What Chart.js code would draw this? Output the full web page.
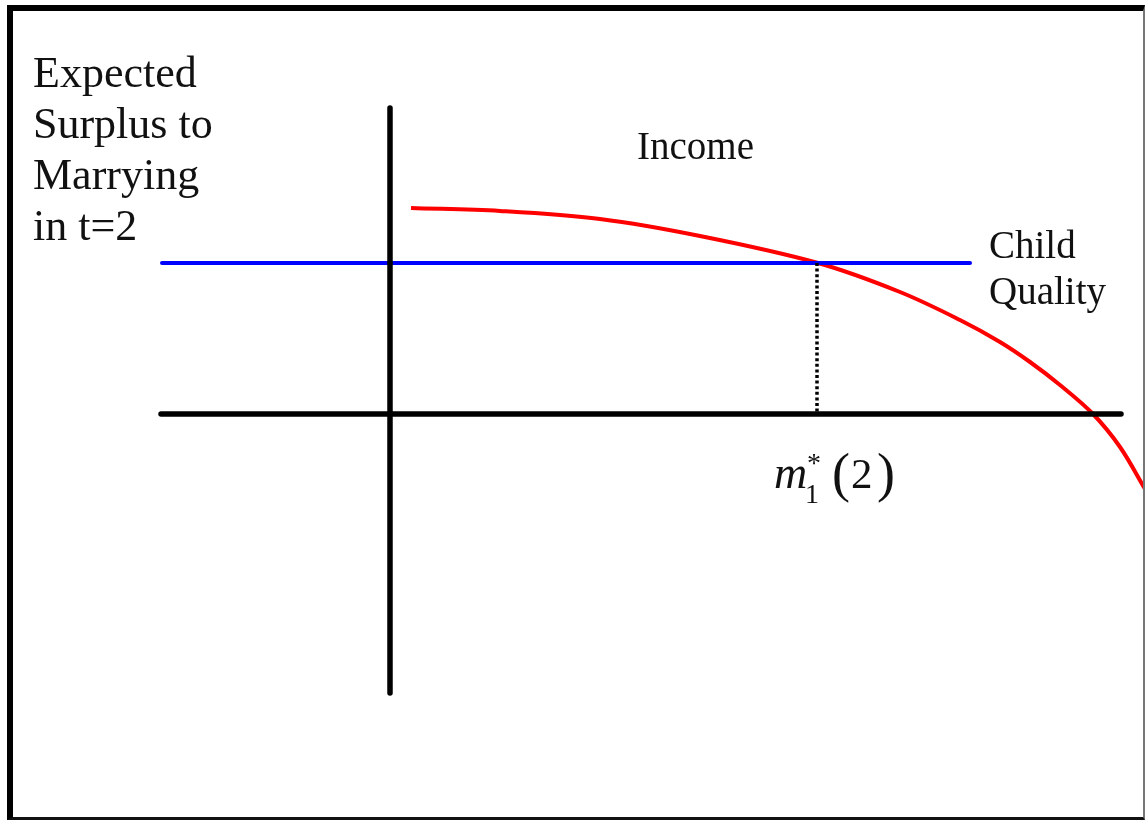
<!DOCTYPE html>
<html>
<head>
<meta charset="utf-8">
<script src="https://cdn.jsdelivr.net/npm/chart.js@4.4.1/dist/chart.umd.min.js"></script>
<style>
  html, body { margin: 0; padding: 0; background: #fff; overflow: hidden; }
  #wrap { position: relative; width: 1145px; height: 820px; }
  #frame {
    position: absolute; left: 7px; top: 5px; width: 1138px; height: 815px;
    box-sizing: border-box; pointer-events: none;
    border-top: 6px solid #000; border-left: 6px solid #000;
    border-right: 2px solid #777; border-bottom: 3px solid #111;
  }
</style>
</head>
<body>
<div id="wrap">
  <canvas id="chart" width="1145" height="820"></canvas>
  <div id="frame"></div>
</div>
<script>
// Income curve (expected surplus)
var incomeX = [0.21, 1.10, 2.10, 3.10, 4.28, 5.10, 5.70, 6.10, 6.40, 6.70, 7.03, 7.30, 7.55];
var incomeY = [2.06, 2.03, 1.95, 1.78, 1.51, 1.22, 0.94, 0.72, 0.52, 0.29, 0.00, -0.33, -0.75];

// Child quality: flat line
var childX = [-2.28, 5.80];
var childY = [1.51, 1.51];

// Axes drawn as lines
var hAxisX = [-2.29, 7.31];
var hAxisY = [0, 0];
var vAxisX = [0, 0];
var vAxisY = [3.06, -2.79];

// Crossing point m1*(2)
var mStar = 4.27;
var dropY = [1.51, 0];

var yTitle = ['Expected', 'Surplus to', 'Marrying', 'in t=2'];
var incomeLabel = 'Income';
var childLabel = ['Child', 'Quality'];

function pts(xs, ys) {
  return xs.map(function (x, i) { return { x: x, y: ys[i] }; });
}

var SERIF = '"Liberation Serif", "Times New Roman", serif';

var textPlugin = {
  id: 'diagramText',
  afterDatasetsDraw: function (chart) {
    var ctx = chart.ctx, xs = chart.scales.x, ys = chart.scales.y;
    function px(v) { return xs.getPixelForValue(v); }
    function py(v) { return ys.getPixelForValue(v); }
    ctx.save();
    ctx.fillStyle = '#111';
    ctx.textAlign = 'left';
    ctx.textBaseline = 'alphabetic';

    ctx.font = '44px ' + SERIF;
    yTitle.forEach(function (s, i) { ctx.fillText(s, px(-3.57), py(3.27) + i * 51); });

    ctx.font = '39px ' + SERIF;
    ctx.fillText(incomeLabel, px(2.47), py(2.55));
    childLabel.forEach(function (s, i) { ctx.fillText(s, px(5.99), py(1.56) + i * 46); });

    // m*_1 (2)
    var ax = px(mStar), by = py(-0.74);
    ctx.font = 'italic 46px ' + SERIF;
    ctx.fillText('m', ax - 43, by);
    ctx.font = '28px ' + SERIF;
    ctx.fillText('1', ax - 12, by + 15);
    ctx.fillText('*', ax - 10, by - 16);
    ctx.font = '54px ' + SERIF;
    ctx.fillText('(', ax + 15, by + 3);
    ctx.fillText(')', ax + 60, by + 3);
    ctx.font = '43px ' + SERIF;
    ctx.fillText('2', ax + 34, by);
    ctx.restore();
  }
};

var lineBase = { pointRadius: 0, fill: false, tension: 0, borderCapStyle: 'round' };

new Chart(document.getElementById('chart').getContext('2d'), {
  type: 'line',
  data: {
    datasets: [
      Object.assign({}, lineBase, { label: 'x axis', data: pts(hAxisX, hAxisY), borderColor: '#000', borderWidth: 5.5 }),
      Object.assign({}, lineBase, { label: 'y axis', data: pts(vAxisX, vAxisY), borderColor: '#000', borderWidth: 5.5 }),
      Object.assign({}, lineBase, { label: 'drop', data: pts([mStar, mStar], dropY), borderColor: '#000', borderWidth: 3.5, borderCapStyle: 'butt', borderDash: [3, 2.6] }),
      Object.assign({}, lineBase, { label: 'Child Quality', data: pts(childX, childY), borderColor: '#0000ff', borderWidth: 4 }),
      Object.assign({}, lineBase, { label: 'Income', data: pts(incomeX, incomeY), borderColor: '#ff0000', borderWidth: 4, borderCapStyle: 'butt', tension: 0.35 })
    ]
  },
  options: {
    responsive: false, animation: false, devicePixelRatio: 1,
    layout: { padding: 0 },
    plugins: { legend: { display: false }, tooltip: { enabled: false } },
    scales: {
      x: { type: 'linear', min: -3.90, max: 7.55, display: false },
      y: { type: 'linear', min: -4.06, max: 4.14, display: false }
    }
  },
  plugins: [textPlugin]
});
</script>
</body>
</html>
